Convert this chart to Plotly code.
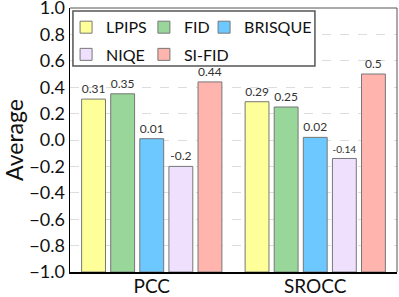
import plotly.graph_objects as go

categories = ["PCC", "SROCC"]
methods = ["LPIPS", "FID", "BRISQUE", "NIQE", "SI-FID"]
values = {
    "LPIPS": [0.31, 0.29],
    "FID": [0.35, 0.25],
    "BRISQUE": [0.01, 0.02],
    "NIQE": [-0.2, -0.14],
    "SI-FID": [0.44, 0.5],
}
colors = {
    "LPIPS": "#FFFF99",
    "FID": "#99D699",
    "BRISQUE": "#6CC8FF",
    "NIQE": "#EFE1FD",
    "SI-FID": "#FFB4AE",
}
y_ticks = [-1.0, -0.8, -0.6, -0.4, -0.2, 0.0, 0.2, 0.4, 0.6, 0.8, 1.0]
y_min, y_max = -1.0, 1.0
font = "Lato, 'Open Sans', sans-serif"

# legend layout: (legend id, x in paper, y in paper) for each method
legend_pos = {
    "LPIPS": ("legend", -0.012, 0.927),
    "FID": ("legend2", 0.226, 0.927),
    "BRISQUE": ("legend3", 0.41, 0.927),
    "NIQE": ("legend4", -0.012, 0.824),
    "SI-FID": ("legend5", 0.226, 0.824),
}

fig = go.Figure()
for m in methods:
    vals = values[m]
    fig.add_trace(go.Bar(
        name=m,
        x=categories,
        y=[v - y_min for v in vals],
        base=y_min,
        text=[str(v) for v in vals],
        textposition="outside",
        textfont=dict(size=12, color="#333", family=font),
        cliponaxis=False,
        marker=dict(color=colors[m], line=dict(color="#777777", width=1)),
        legend=legend_pos[m][0],
    ))

legend_common = dict(
    xanchor="left", yanchor="middle", bgcolor="rgba(0,0,0,0)", borderwidth=0,
    font=dict(size=16, family=font, color="#111"),
)
layout_legends = {}
for m in methods:
    lid, lx, ly = legend_pos[m]
    layout_legends[lid] = dict(x=lx, y=ly, **legend_common)

fig.update_layout(
    width=399, height=297,
    margin=dict(l=70, r=2, t=8, b=25),
    paper_bgcolor="white", plot_bgcolor="white",
    barmode="group", bargap=0.11, bargroupgap=0.18,
    font=dict(family=font, color="#111"),
    showlegend=True,
    **layout_legends,
)
fig.update_yaxes(
    range=[y_min, y_max], tickvals=y_ticks, ticktext=[f"{t:.1f}".replace("-", "\u2212") for t in y_ticks],
    showgrid=True, gridcolor="#DDDDDD", griddash="dash", gridwidth=1,
    zeroline=False, showline=True, linecolor="black", linewidth=1.5,
    ticks="", tickfont=dict(size=18, family=font, color="#111"),
    ticklabeloverflow="allow",
    title=dict(text="Average", font=dict(size=23, family=font, color="#111"), standoff=12),
    automargin=False,
)
fig.update_xaxes(
    showline=True, linecolor="black", linewidth=1.5,
    tickfont=dict(size=19, family=font, color="#111"), ticks="",
    ticklabeloverflow="allow", ticklabelstandoff=-3,
    automargin=False,
)
fig.add_shape(type="line", xref="paper", yref="paper", x0=0, x1=1, y0=1, y1=1,
              line=dict(color="#555", width=1))
fig.add_shape(type="line", xref="paper", yref="paper", x0=1, x1=1, y0=0, y1=1,
              line=dict(color="#555", width=1))
# legend frame
fig.add_shape(type="rect", xref="paper", yref="paper", x0=0.009, x1=0.749, y0=0.78, y1=0.989,
              fillcolor="white", line=dict(color="#555", width=1.5), layer="above")

fig.write_html(
    "out.html",
    config={"displayModeBar": False, "staticPlot": True},
    post_script="document.body.style.margin='0';document.body.style.padding='0';",
)
